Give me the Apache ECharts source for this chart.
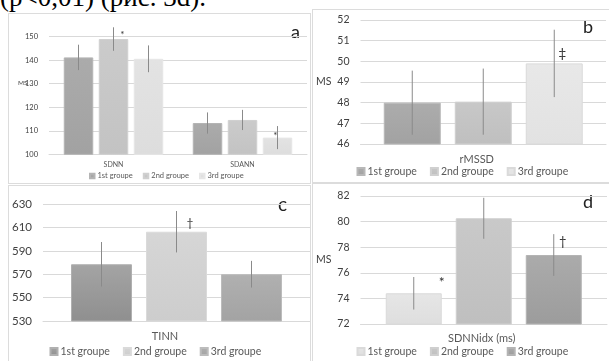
<!DOCTYPE html>
<html>
<head>
<meta charset="utf-8">
<script src="https://cdn.jsdelivr.net/npm/echarts@6/dist/echarts.min.js"></script>
<style>
  html, body { margin: 0; padding: 0; background: #fff; width: 609px; height: 361px; overflow: hidden; position: relative; }
  .frame { position: absolute; border: 1px solid #dcdcdc; background: #fff; }
  #caption { position: absolute; left: 0; top: -16px; font-family: "Liberation Serif", "DejaVu Serif", serif; font-size: 27px; line-height: 27px; color: #000; white-space: nowrap; }
</style>
</head>
<body>
<div id="caption">(p&lt;0,01) (рис. 3d).</div>
<div id="pa" class="frame" style="left:8px;top:13px;width:301px;height:169px;"></div>
<div id="pb" class="frame" style="left:312px;top:9px;width:300px;height:172px;"></div>
<div id="pc" class="frame" style="left:8px;top:185px;width:301px;height:180px;"></div>
<div id="pd" class="frame" style="left:312px;top:183px;width:300px;height:180px;"></div>
<script>
// ---------------- DATA ----------------
const groupNames = ['1st groupe', '2nd groupe', '3rd groupe'];

// Panel a
const catsA = ['SDNN', 'SDANN'];
const valsA = [[141.2, 113.3], [149.0, 114.6], [140.6, 107.1]];
const errA  = [[5.4, 4.5], [5.0, 4.3], [5.7, 4.9]];
const marksA = [['', ''], ['*', ''], ['', '*']];
const yTicksA = { min: 100, max: 150, interval: 10 };

// Panel b
const catsB = ['rMSSD'];
const valsB = [[48.0], [48.05], [49.9]];
const errB  = [[1.55], [1.6], [1.63]];
const marksB = [[''], [''], ['‡']];
const yTicksB = { min: 46, max: 52, interval: 1 };

// Panel c
const catsC = ['TINN'];
const valsC = [[578.5], [606.3], [570.0]];
const errC  = [[19.0], [17.7], [11.4]];
const marksC = [[''], ['†'], ['']];
const yTicksC = { min: 530, max: 630, interval: 20 };

// Panel d
const catsD = ['SDNNidx (ms)'];
const valsD = [[74.4], [80.26], [77.39]];
const errD  = [[1.27], [1.6], [1.63]];
const marksD = [['*'], [''], ['†']];
const yTicksD = { min: 72, max: 82, interval: 2 };

// ---------------- STYLE ----------------
const FONT = 'Lato, "Liberation Sans", sans-serif';
const TXT = '#595959';
const GRID = '#d9d9d9';

function grad(c) {
  return new echarts.graphic.LinearGradient(0, 0, 0, 1, [
    { offset: 0, color: c[0] }, { offset: 1, color: c[1] }
  ]);
}

function buildPanel(el, cfg) {
  const chart = echarts.init(el, null, { renderer: 'canvas' });
  const series = [];
  const step = cfg.barWidth + cfg.gapPx;
  cfg.vals.forEach((gv, gi) => {
    series.push({
      type: 'bar',
      name: groupNames[gi],
      barWidth: cfg.barWidth,
      barGap: (cfg.gapPx / cfg.barWidth * 100) + '%',
      itemStyle: { color: grad(cfg.colors[gi]), borderColor: cfg.borders[gi], borderWidth: 1 },
      data: gv.map((v, ci) => {
        const m = cfg.marks[gi][ci];
        const off = (cfg.markOffsets[gi] && cfg.markOffsets[gi][ci]) || [0, 0];
        return {
          value: v,
          label: {
            show: m !== '',
            formatter: m,
            position: 'top',
            distance: 0,
            verticalAlign: 'middle',
            offset: off,
            fontSize: (cfg.markSizes[gi] && cfg.markSizes[gi][ci]) || 12,
            fontFamily: FONT,
            color: '#333'
          }
        };
      }),
      z: 2
    });
  });
  cfg.vals.forEach((gv, gi) => {
    series.push({
      type: 'custom',
      name: groupNames[gi] + ' err',
      data: gv.map((v, ci) => [ci, v, cfg.errs[gi][ci]]),
      renderItem: function (params, api) {
        const ci = api.value(0), v = api.value(1), e = api.value(2);
        const top = api.coord([ci, v + e]);
        const bot = api.coord([ci, v - e]);
        const x = top[0] + (gi - 1) * step;
        return {
          type: 'line',
          shape: { x1: x, y1: top[1], x2: x, y2: bot[1] },
          style: { stroke: '#8a8a8a', lineWidth: 1 }
        };
      },
      z: 3,
      silent: true,
      legendHoverLink: false
    });
  });

  const graphics = [{
    type: 'text',
    left: cfg.letter.x, top: cfg.letter.y,
    style: { text: cfg.letter.t, fontSize: cfg.letter.size, fontFamily: FONT, fill: '#222' }
  }];
  if (cfg.sideName) {
    graphics.push({
      type: 'text',
      left: cfg.sideName.x, top: cfg.sideName.y,
      style: { text: cfg.sideName.t, fontSize: cfg.sideName.size, fontFamily: FONT, fill: '#404040' }
    });
  }

  chart.setOption({
    animation: false,
    textStyle: { fontFamily: FONT },
    grid: { left: cfg.grid.left, top: cfg.grid.top, width: cfg.grid.width, height: cfg.grid.height },
    legend: {
      data: groupNames,
      left: cfg.legend.left, top: cfg.legend.top,
      padding: 0,
      icon: 'rect',
      itemWidth: cfg.legend.icon, itemHeight: cfg.legend.icon,
      itemGap: cfg.legend.gap,
      textStyle: { fontSize: cfg.legend.font, color: TXT, fontFamily: FONT, padding: [0, 0, 0, -2] },
      selectedMode: false
    },
    xAxis: {
      type: 'category',
      data: cfg.cats,
      axisLine: { show: true, lineStyle: { color: GRID } },
      axisTick: { show: false },
      axisLabel: { fontSize: cfg.catFont, color: TXT, margin: cfg.catMargin, fontFamily: FONT, padding: cfg.catPad || 0 }
    },
    yAxis: {
      type: 'value',
      min: cfg.ticks.min, max: cfg.ticks.max, interval: cfg.ticks.interval,
      axisLine: { show: false },
      axisTick: { show: false },
      splitLine: { lineStyle: { color: GRID } },
      axisLabel: { fontSize: cfg.yFont, color: '#404040', margin: cfg.yMargin, fontFamily: FONT },
      name: cfg.yName || '',
      nameLocation: 'middle',
      nameRotate: 0,
      nameGap: cfg.nameGap || 25,
      nameTextStyle: { fontSize: cfg.nameFont || cfg.yFont, color: '#404040', fontFamily: FONT }
    },
    graphic: graphics,
    series: series
  });
  return chart;
}

buildPanel(document.getElementById('pa'), {
  cats: catsA, vals: valsA, errs: errA, marks: marksA, ticks: yTicksA,
  grid: { left: 40, top: 22.7, width: 258, height: 117.6 },
  barWidth: 29.5, gapPx: 5.5,
  colors: [['#ababab', '#a2a2a2'], ['#cbcbcb', '#c3c3c3'], ['#e3e3e3', '#dddddd']],
  borders: ['#b4b4b4', '#d0d0d0', '#e6e6e6'],
  markOffsets: [[], [[9, -4]], [null, [-2, -2]]],
  markSizes: [[], [10], [null, 10]],
  legend: { left: 80, top: 158, icon: 4.5, gap: 10, font: 7.5 },
  catFont: 7, catMargin: 7,
  yFont: 7.5, yMargin: 11,
  sideName: { t: 'MS', x: 9, y: 65, size: 6.5 },
  letter: { t: 'a', x: 282, y: 9, size: 18 }
});

buildPanel(document.getElementById('pb'), {
  cats: catsB, vals: valsB, errs: errB, marks: marksB, ticks: yTicksB,
  grid: { left: 40, top: 10, width: 253, height: 124 },
  barWidth: 57, gapPx: 14,
  colors: [['#acacac', '#a2a2a2'], ['#c8c8c8', '#bfbfbf'], ['#e8e8e8', '#e2e2e2']],
  borders: ['#b8b8b8', '#d0d0d0', '#dadada'],
  markOffsets: [[], [], [[8, -10]]],
  markSizes: [[], [], [14]],
  legend: { left: 43.5, top: 156, icon: 7, gap: 13, font: 10.5 },
  catFont: 11, catMargin: 10, catPad: [0, 13, 0, 0],
  yFont: 10.5, yMargin: 11,
  yName: 'MS', nameGap: 25.5, nameFont: 10.5,
  letter: { t: 'b', x: 270, y: 8, size: 18 }
});

buildPanel(document.getElementById('pc'), {
  cats: catsC, vals: valsC, errs: errC, marks: marksC, ticks: yTicksC,
  grid: { left: 29, top: 18, width: 273, height: 117 },
  barWidth: 61, gapPx: 14,
  colors: [['#a4a4a4', '#8f8f8f'], ['#d6d6d6', '#cdcdcd'], ['#b0b0b0', '#a3a3a3']],
  borders: ['#b0b0b0', '#dadada', '#bcbcbc'],
  markOffsets: [[], [[13.5, -8.7]], []],
  markSizes: [[], [12], []],
  legend: { left: 40.5, top: 160, icon: 7, gap: 13, font: 10.5 },
  catFont: 11, catMargin: 10, catPad: [0, 23, 0, 0],
  yFont: 11.5, yMargin: 11,
  letter: { t: 'c', x: 269, y: 9, size: 19 }
});

buildPanel(document.getElementById('pd'), {
  cats: catsD, vals: valsD, errs: errD, marks: marksD, ticks: yTicksD,
  grid: { left: 40, top: 12, width: 254, height: 128 },
  barWidth: 56, gapPx: 14,
  colors: [['#e6e6e6', '#dedede'], ['#c9c9c9', '#bfbfbf'], ['#ababab', '#9c9c9c']],
  borders: ['#dadada', '#cfcfcf', '#b4b4b4'],
  markOffsets: [[[28, -11]], [], [[9, -13]]],
  markSizes: [[14], [], [13]],
  legend: { left: 43.5, top: 162, icon: 7, gap: 13, font: 10.5 },
  catFont: 11, catMargin: 9, catPad: [0, 4, 0, 0],
  yFont: 10.5, yMargin: 11,
  yName: 'MS', nameGap: 25, nameFont: 10.5,
  letter: { t: 'd', x: 270, y: 9, size: 18 }
});
</script>
</body>
</html>
